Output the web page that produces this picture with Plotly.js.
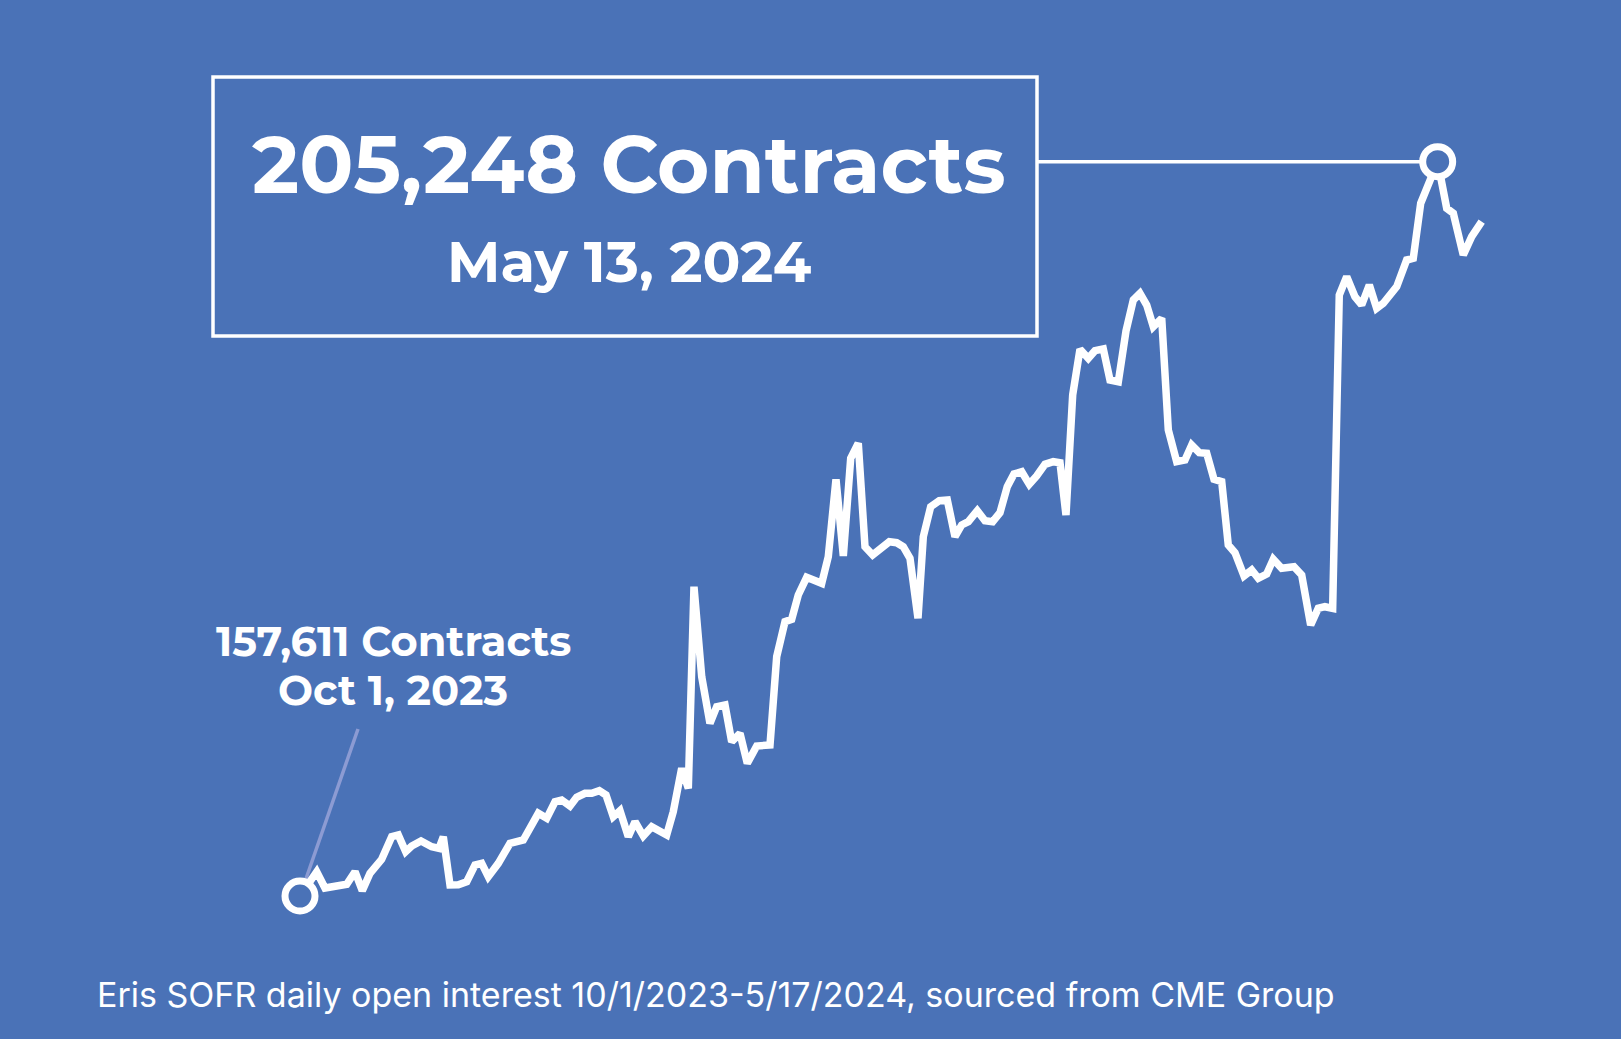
<!DOCTYPE html>
<html>
<head>
<meta charset="utf-8">
<script src="https://cdn.plot.ly/plotly-3.0.1.min.js"></script>
<style>
html,body{margin:0;padding:0;background:#4A72B7;}
#chart{width:1621px;height:1039px;}
</style>
</head>
<body>
<div id="chart"></div>
<script>
// Days since Oct 1, 2023
var daysSinceOct1 = [0.0,3.24,4.84,7.11,9.05,10.66,12.07,13.57,15.83,17.77,19.05,20.48,21.65,23.45,25.52,26.94,27.77,29.07,30.68,32.31,33.91,35.21,36.49,38.43,40.70,43.27,44.90,46.18,47.81,49.42,50.71,52.32,53.62,55.23,56.53,58.00,59.30,60.71,62.01,63.62,64.92,66.53,68.16,69.43,71.06,72.34,73.97,75.25,76.35,77.85,79.45,80.75,82.36,83.66,85.27,86.68,88.50,91.08,92.38,93.99,95.28,96.56,98.19,101.10,102.38,103.87,105.29,106.72,108.19,109.49,110.98,114.20,115.63,116.91,118.21,119.76,120.79,122.22,123.89,125.44,126.93,128.23,129.51,131.25,132.74,134.23,135.65,137.06,138.36,139.86,141.33,142.76,144.37,145.98,147.28,148.44,149.74,151.15,152.76,154.06,155.67,156.97,158.58,160.07,161.49,162.78,164.08,165.36,166.99,168.27,169.89,171.50,172.80,174.27,175.71,177.12,178.62,179.89,181.19,182.94,184.43,185.71,187.33,188.61,190.24,192.62,194.12,195.86,197.33,198.63,200.12,201.40,202.84,204.44,205.74,207.22,208.65,209.93,212.53,214.46,215.74,217.18,218.65,220.47,222.22,223.50,225.43,227.06,229.0];

// Eris SOFR daily open interest (contracts)
var openInterest = [157611,159187,158130,158325,158370,159187,157955,159084,159992,161458,161568,160485,160855,161179,160809,160705,161458,158325,158340,158539,159622,159732,158863,159732,161030,161244,162107,162976,162651,163728,163839,163449,164014,164273,164273,164442,164163,162755,163144,161458,162431,161503,162107,161892,161568,163079,165895,164598,177675,171837,168814,169891,170001,167620,168165,166219,167342,167406,173135,175405,175561,177137,178285,177896,179621,184642,179667,186004,186978,180270,179732,180595,180530,180270,179518,175625,180919,182865,183254,183300,180919,181678,181892,182606,181957,181892,182476,184162,184986,185135,184318,184856,185615,185784,185719,182326,190111,193075,192492,192985,193095,191084,190974,194263,196274,196708,195949,194541,195086,187840,185784,185894,186867,186368,186329,184642,184487,180380,179881,178369,178759,178220,178499,179453,178869,178973,178434,175191,176274,176378,176274,196598,197785,196488,195949,197247,195735,196059,197136,198868,198978,202547,203844,205248,202222,201898,199193,200380,201353];

var startLabel = ["157,611 Contracts", "Oct 1, 2023"];
var peakLabel = ["205,248 Contracts", "May 13, 2024"];
var footnote = "Eris SOFR daily open interest 10/1/2023-5/17/2024, sourced from CME Group";

var bg = "#4A72B7";
var peakIdx = openInterest.indexOf(Math.max.apply(null, openInterest));
var startIdx = 0;

var W = 1621, H = 1039;
function px(x){ return x / W; }
function py(y){ return 1 - y / H; }

var traces = [
  {
    x: daysSinceOct1, y: openInterest, type: "scatter", mode: "lines",
    line: {color: "#FFFFFF", width: 7.5, shape: "linear"},
    hoverinfo: "skip", showlegend: false
  },
  {
    x: [daysSinceOct1[startIdx], daysSinceOct1[peakIdx]],
    y: [openInterest[startIdx], openInterest[peakIdx]],
    type: "scatter", mode: "markers",
    marker: {size: 30, color: bg, line: {color: "#FFFFFF", width: 7}},
    hoverinfo: "skip", showlegend: false
  }
];

var boldFont = "Montserrat, Inter, 'Noto Sans', sans-serif";
var layout = {
  width: W, height: H,
  margin: {l: 0, r: 0, t: 0, b: 0, pad: 0},
  paper_bgcolor: bg, plot_bgcolor: bg,
  showlegend: false,
  xaxis: {visible: false, range: [-58.136, 255.996], fixedrange: true},
  yaxis: {visible: false, range: [148335, 215735], fixedrange: true},
  shapes: [
    {type: "rect", xref: "paper", yref: "paper",
     x0: px(213), x1: px(1037), y0: py(77), y1: py(336),
     line: {color: "#FFFFFF", width: 3.5}, fillcolor: "rgba(0,0,0,0)", layer: "below"},
    {type: "line", xref: "paper", yref: "y",
     x0: px(1037), x1: px(1437.7), y0: openInterest[peakIdx], y1: openInterest[peakIdx],
     line: {color: "#FFFFFF", width: 3.5}, layer: "below"},
    {type: "line", xref: "paper", yref: "paper",
     x0: px(358), y0: py(729), x1: px(300), y1: py(896),
     line: {color: "#8C9BD3", width: 3.5}, layer: "below"}
  ],
  annotations: [
    {text: "<b>" + peakLabel[0] + "</b>", xref: "paper", yref: "paper",
     x: px(629), y: py(165), xanchor: "center", yanchor: "middle", showarrow: false,
     font: {family: boldFont, size: 80, color: "#FFFFFF"}},
    {text: "<b>" + peakLabel[1] + "</b>", xref: "paper", yref: "paper",
     x: px(629), y: py(262), xanchor: "center", yanchor: "middle", showarrow: false,
     font: {family: boldFont, size: 56, color: "#FFFFFF"}},
    {text: "<b>" + startLabel[0] + "</b>", xref: "paper", yref: "paper",
     x: px(393), y: py(641), xanchor: "center", yanchor: "middle", showarrow: false,
     font: {family: boldFont, size: 41.5, color: "#FFFFFF"}},
    {text: "<b>" + startLabel[1] + "</b>", xref: "paper", yref: "paper",
     x: px(393), y: py(690), xanchor: "center", yanchor: "middle", showarrow: false,
     font: {family: boldFont, size: 41.5, color: "#FFFFFF"}},
    {text: footnote, xref: "paper", yref: "paper",
     x: px(95), y: py(994), xanchor: "left", yanchor: "middle", showarrow: false,
     font: {family: "Inter, 'Noto Sans', sans-serif", size: 34, color: "#FFFFFF"}}
  ]
};

Plotly.newPlot("chart", traces, layout, {displayModeBar: false, staticPlot: true});
</script>
</body>
</html>
